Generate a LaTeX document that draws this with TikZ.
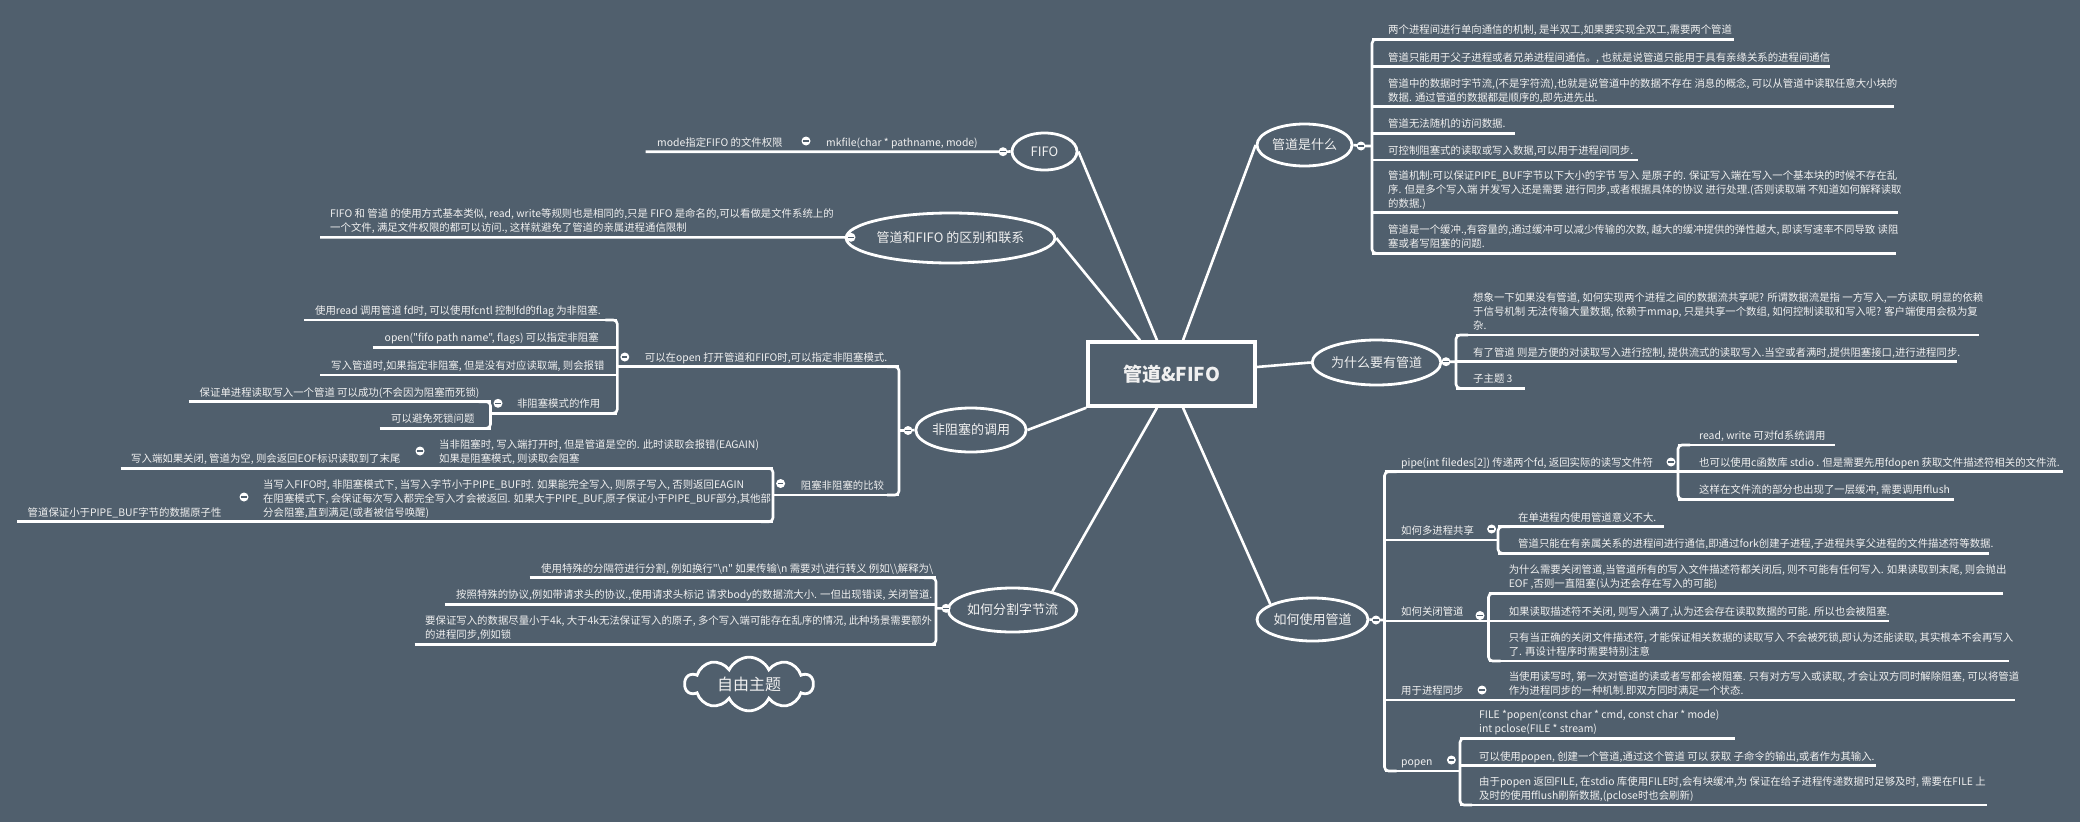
\documentclass[tikz,border=0pt]{standalone}
\usepackage{fontspec}
\setmainfont{Noto Sans CJK SC}[Ligatures=TeXOff]
\usetikzlibrary{shapes.geometric,shapes.symbols}
\definecolor{bgc}{HTML}{505F6D}
\definecolor{tc}{HTML}{F0F0F0}
\tikzset{
  ln/.style={draw=white, line width=2.6pt},
  brk/.style={draw=white, line width=2.6pt, rounded corners=4pt},
  txt/.style={text=tc, inner sep=0pt, font=\fontsize{10.4}{12}\selectfont},
  topic/.style={ellipse, draw=white, line width=2.8pt, text=tc, inner sep=0pt, font=\fontsize{13}{15}\selectfont},
  root/.style={rectangle, draw=white, line width=3.5pt, text=tc, minimum width=167pt, minimum height=64pt, font=\fontsize{19}{21}\selectfont},
  cloudn/.style={cloud, cloud puffs=10, cloud puff arc=130, aspect=2.4, draw=white, line width=2.8pt, text=tc, inner sep=0pt, minimum width=128pt, minimum height=46pt, font=\fontsize{16}{18}\selectfont},
  mk/.style={circle, fill=white, inner sep=0pt, minimum size=9pt,
    path picture={\draw[bgc, line width=1.3pt] ([xshift=-2.6pt]path picture bounding box.center) -- ([xshift=2.6pt]path picture bounding box.center);}},
}
\newcommand\mmt[4]{\node[txt,anchor=base west] (#1) at (#2,#3) {#4};}
\newcommand\mmu[4]{\coordinate (#1a) at (#2,#4);\coordinate (#1b) at (#3,#4);\draw[ln] (#1a) -- (#1b);}
\newcommand\mmr[4]{\coordinate (#1t) at (#2,#3);\coordinate (#1d) at (#2,#4);\draw[brk] ([xshift=12pt]#1t) -- (#1t) -- (#1d) -- ([xshift=12pt]#1d);}
\newcommand\mml[4]{\coordinate (#1t) at (#2,#3);\coordinate (#1d) at (#2,#4);\draw[brk] ([xshift=-12pt]#1t) -- (#1t) -- (#1d) -- ([xshift=-12pt]#1d);}
\begin{document}
\begin{tikzpicture}[x=1pt,y=-1pt]
\useasboundingbox (0,0) rectangle (2080,822);
\fill[bgc] (0,0) rectangle (2080,822);

% ---------- topics ----------
\node[root] (ctr) at (1171.5,374) {\bfseries 管道\&FIFO};
\node[topic, minimum width=95pt, minimum height=42pt] (wsm) at (1304.5,145) {管道是什么};
\node[topic, minimum width=121pt, minimum height=45pt] (why) at (1376.5,362.5) {为什么要有管道};
\node[topic, minimum width=111pt, minimum height=43pt] (use) at (1312.5,619.5) {如何使用管道};
\node[topic, minimum width=65pt, minimum height=37pt] (fifo) at (1044.5,151.5) {FIFO};
\node[topic, minimum width=185pt, minimum height=50pt] (diff) at (950.5,238) {管道和FIFO 的区别和联系};
\node[topic, minimum width=110pt, minimum height=44pt] (nb) at (971,430) {非阻塞的调用};
\node[topic, minimum width=111pt, minimum height=44pt] (split) at (1012.5,610) {如何分割字节流};
\node[cloudn] (free) at (749,684) {自由主题};

% ---------- main connectors ----------
\draw[ln] ([xshift=11.5pt]ctr.north) -- (wsm.west);
\draw[ln] ([yshift=7pt]ctr.east) -- (why.west);
\draw[ln] ([xshift=11.5pt]ctr.south) -- (use.160);
\draw[ln] ([xshift=-14.5pt]ctr.north) -- (fifo.east);
\draw[ln] ([xshift=-31.5pt]ctr.north) -- (diff.east);
\draw[ln] (ctr.south west) -- (nb.east);
\draw[ln] ([xshift=-14.5pt]ctr.south) -- (split.25);

% ---------- 管道是什么 ----------
\coordinate (wsmc) at (1361,146);
\coordinate (wsj) at (1372,146);
\draw[ln] (wsm.east) -- (wsmc) -- (wsj);
\mmr{wsbr}{1372}{39.3}{253.3}
\mmu{ws1}{1372}{1734}{39.3}
\mmt{ws1t}{1388}{33.8}{两个进程间进行单向通信的机制, 是半双工,如果要实现全双工,需要两个管道}
\mmu{ws2}{1372}{1830}{66.7}
\mmt{ws2t}{1388}{61.2}{管道只能用于父子进程或者兄弟进程间通信。, 也就是说管道只能用于具有亲缘关系的进程间通信}
\mmu{ws3}{1372}{1894}{106.7}
\mmt{ws3t}{1388}{87.2}{管道中的数据时字节流,(不是字符流),也就是说管道中的数据不存在 消息的概念, 可以从管道中读取任意大小块的}
\mmt{ws3u}{1388}{101.2}{数据. 通过管道的数据都是顺序的,即先进先出.}
\mmu{ws4}{1372}{1514.5}{133.3}
\mmt{ws4t}{1388}{127.8}{管道无法随机的访问数据.}
\mmu{ws5}{1372}{1637.7}{160}
\mmt{ws5t}{1388}{154.5}{可控制阻塞式的读取或写入数据,可以用于进程间同步.}
\mmu{ws6}{1372}{1898}{212.7}
\mmt{ws6t}{1388}{179.2}{管道机制:可以保证PIPE\_BUF字节以下大小的字节 写入 是原子的. 保证写入端在写入一个基本块的时候不存在乱}
\mmt{ws6u}{1388}{193.2}{序. 但是多个写入端 并发写入还是需要 进行同步,或者根据具体的协议 进行处理.(否则读取端 不知道如何解释读取}
\mmt{ws6v}{1388}{207.2}{的数据.)}
\mmu{ws7}{1372}{1895.7}{253.3}
\mmt{ws7t}{1388}{233.8}{管道是一个缓冲.,有容量的,通过缓冲可以减少传输的次数, 越大的缓冲提供的弹性越大, 即读写速率不同导致 读阻}
\mmt{ws7u}{1388}{247.8}{塞或者写阻塞的问题.}
\node[mk] (wsmk) at (wsmc) {};

% ---------- 为什么要有管道 ----------
\coordinate (whyc) at (1446,361.7);
\coordinate (whyj) at (1456,361.7);
\draw[ln] (why.east) -- (whyc) -- (whyj);
\mmr{whybr}{1456}{335}{388.3}
\mmu{wy1}{1456}{1979}{335}
\mmt{wy1t}{1473}{301.5}{想象一下如果没有管道, 如何实现两个进程之间的数据流共享呢? 所谓数据流是指 一方写入,一方读取.明显的依赖}
\mmt{wy1u}{1473}{315.5}{于信号机制 无法传输大量数据, 依赖于mmap, 只是共享一个数组, 如何控制读取和写入呢? 客户端使用会极为复}
\mmt{wy1v}{1473}{329.5}{杂.}
\mmu{wy2}{1456}{1957}{361.7}
\mmt{wy2t}{1473}{356.2}{有了管道 则是方便的对读取写入进行控制, 提供流式的读取写入.当空或者满时,提供阻塞接口,进行进程同步.}
\mmu{wy3}{1456}{1525}{388.3}
\mmt{wy3t}{1473}{382.8}{子主题 3}
\node[mk] (whymk) at (whyc) {};

% ---------- 如何使用管道 ----------
\coordinate (usec) at (1376,620);
\coordinate (usej) at (1384.5,620);
\draw[ln] (use.east) -- (usec) -- (usej);
\mmr{usebr}{1384.5}{471.7}{771}
% pipe
\mmu{pp}{1384.5}{1678}{471.7}
\mmt{ppt}{1401}{466.5}{pipe(int filedes[2]) 传递两个fd, 返回实际的读写文件符}
\mmr{ppbr}{1678}{445}{499.3}
\mmu{pp1}{1678}{1835}{445}
\mmt{pp1t}{1699}{439.5}{read, write 可对fd系统调用}
\mmu{pp2}{1678}{2063}{471.7}
\mmt{pp2t}{1699}{466.2}{也可以使用c函数库 stdio . 但是需要先用fdopen 获取文件描述符相关的文件流.}
\mmu{pp3}{1678}{1953.6}{499.3}
\mmt{pp3t}{1699}{493.8}{这样在文件流的部分也出现了一层缓冲, 需要调用fflush}
\node[mk] (ppmk) at (1671,462) {};
% 多进程共享
\mmu{mp}{1384.5}{1498}{540}
\mmt{mpt}{1401}{534.5}{如何多进程共享}
\mmr{mpbr}{1498}{526.7}{553.3}
\mmu{mp1}{1498}{1664}{526.7}
\mmt{mp1t}{1518}{521.2}{在单进程内使用管道意义不大.}
\mmu{mp2}{1498}{1989}{553.3}
\mmt{mp2t}{1518}{547.8}{管道只能在有亲属关系的进程间进行通信,即通过fork创建子进程,子进程共享父进程的文件描述符等数据.}
\node[mk] (mpmk) at (1491.6,529) {};
% 关闭管道
\mmu{cl}{1384.5}{1488.5}{621}
\mmt{clt}{1401}{615.5}{如何关闭管道}
\mmr{clbr}{1488.5}{593.3}{661}
\mmu{cl1}{1488.5}{2003}{593.3}
\mmt{cl1t}{1508.6}{573.8}{为什么需要关闭管道,当管道所有的写入文件描述符都关闭后, 则不可能有任何写入. 如果读取到末尾, 则会抛出}
\mmt{cl1u}{1508.6}{587.8}{EOF ,否则一直阻塞(认为还会存在写入的可能)}
\mmu{cl2}{1488.5}{1889}{621}
\mmt{cl2t}{1508.6}{615.5}{如果读取描述符不关闭, 则写入满了,认为还会存在读取数据的可能. 所以也会被阻塞.}
\mmu{cl3}{1488.5}{2009}{661}
\mmt{cl3t}{1508.6}{641.5}{只有当正确的关闭文件描述符, 才能保证相关数据的读取写入 不会被死锁,即认为还能读取, 其实根本不会再写入}
\mmt{cl3u}{1508.6}{655.5}{了. 再设计程序时需要特别注意}
\node[mk] (clmk) at (1480,615.5) {};
% 进程同步
\mmu{sy}{1384.5}{2015}{700}
\mmt{syt}{1401}{694.5}{用于进程同步}
\mmt{sy1t}{1508.6}{680.5}{当使用读写时, 第一次对管道的读或者写都会被阻塞. 只有对方写入或读取, 才会让双方同时解除阻塞, 可以将管道}
\mmt{sy1u}{1508.6}{694.5}{作为进程同步的一种机制.即双方同时满足一个状态.}
\node[mk] (symk) at (1482,690) {};
% popen
\mmu{po}{1384.5}{1460}{771}
\mmt{pot}{1401}{765.5}{popen}
\mmr{pobr}{1460}{738.3}{805}
\mmu{po1}{1460}{1735}{738.3}
\mmt{po1t}{1479}{718.8}{FILE *popen(const char * cmd, const char * mode)}
\mmt{po1u}{1479}{732.8}{int pclose(FILE * stream)}
\mmu{po2}{1460}{1876}{765.7}
\mmt{po2t}{1479}{760.2}{可以使用popen, 创建一个管道,通过这个管道 可以 获取 子命令的输出,或者作为其输入.}
\mmu{po3}{1460}{1987}{805}
\mmt{po3t}{1479}{785.5}{由于popen 返回FILE, 在stdio 库使用FILE时,会有块缓冲,为 保证在给子进程传递数据时足够及时, 需要在FILE 上}
\mmt{po3u}{1479}{799.5}{及时的使用fflush刷新数据,(pclose时也会刷新)}
\node[mk] (pomk) at (1451.4,760) {};
\node[mk] (usemk) at (usec) {};

% ---------- FIFO ----------
\coordinate (fifoc) at (1003,151.7);
\coordinate (fifoe) at (645.7,151.7);
\draw[ln] (fifo.west) -- (fifoc) -- (fifoe);
\mmt{ff1t}{826}{146.2}{mkfile(char * pathname, mode)}
\mmt{ff2t}{657}{146.2}{mode指定FIFO 的文件权限}
\node[mk] (ffmk) at (806,141) {};
\node[mk] (fifomk) at (fifoc) {};

% ---------- 区别和联系 ----------
\coordinate (diffc) at (851,237.3);
\coordinate (diffe) at (320,237.3);
\draw[ln] (diff.west) -- (diffc) -- (diffe);
\mmt{df1t}{330}{217.8}{FIFO 和 管道 的使用方式基本类似, read, write等规则也是相同的,只是 FIFO 是命名的,可以看做是文件系统上的}
\mmt{df1u}{330}{231.8}{一个文件, 满足文件权限的都可以访问., 这样就避免了管道的亲属进程通信限制}
\node[mk] (diffmk) at (diffc) {};

% ---------- 非阻塞的调用 ----------
\coordinate (nbc) at (908,430.5);
\coordinate (nbj) at (899,430.5);
\draw[ln] (nb.west) -- (nbc) -- (nbj);
\mml{nbbr}{899}{366.7}{495}
% open
\mmu{op}{617.3}{899}{366.7}
\mmt{opt}{644.7}{361.2}{可以在open 打开管道和FIFO时,可以指定非阻塞模式.}
\mml{opbr}{617.3}{320}{413.3}
\mmu{op1}{304}{617.3}{320}
\mmt{op1t}{314.9}{314.5}{使用read 调用管道 fd时, 可以使用fcntl 控制fd的flag 为非阻塞.}
\mmu{op2}{372.6}{617.3}{347.3}
\mmt{op2t}{384.5}{341.8}{open("fifo path name", flags) 可以指定非阻塞}
\mmu{op3}{320}{617.3}{375}
\mmt{op3t}{331}{369.5}{写入管道时,如果指定非阻塞, 但是没有对应读取端, 则会报错}
\mmu{op4}{490.5}{617.3}{413.3}
\mmt{op4t}{516.8}{407.8}{非阻塞模式的作用}
\mml{op4br}{490.5}{401.7}{428.3}
\mmu{op41}{188.5}{490.5}{401.7}
\mmt{op41t}{199.5}{396.2}{保证单进程读取写入一个管道 可以成功(不会因为阻塞而死锁)}
\mmu{op42}{379.5}{490.5}{428.3}
\mmt{op42t}{391}{422.8}{可以避免死锁问题}
\node[mk] (opmk) at (624.8,357) {};
\node[mk] (op4mk) at (498,403.3) {};
% 阻塞非阻塞的比较
\mmu{cp}{773}{899}{495}
\mmt{cpt}{800.7}{489.5}{阻塞非阻塞的比较}
\mml{cpbr}{773}{468.3}{521.7}
\mmu{cp1}{120.5}{773}{468.3}
\mmt{cp1t}{439}{448.8}{当非阻塞时, 写入端打开时, 但是管道是空的. 此时读取会报错(EAGAIN)}
\mmt{cp1u}{439}{462.8}{如果是阻塞模式, 则读取会阻塞}
\mmt{cp1g}{131}{462.8}{写入端如果关闭, 管道为空, 则会返回EOF标识读取到了末尾}
\mmu{cp2}{17}{773}{521.7}
\mmt{cp2t}{263}{488.2}{当写入FIFO时, 非阻塞模式下, 当写入字节小于PIPE\_BUF时. 如果能完全写入, 则原子写入, 否则返回EAGIN}
\mmt{cp2u}{263}{502.2}{在阻塞模式下, 会保证每次写入都完全写入才会被返回. 如果大于PIPE\_BUF,原子保证小于PIPE\_BUF部分,其他部}
\mmt{cp2v}{263}{516.2}{分会阻塞,直到满足(或者被信号唤醒)}
\mmt{cp2g}{27.5}{516.2}{管道保证小于PIPE\_BUF字节的数据原子性}
\node[mk] (cpmk) at (780.6,483.5) {};
\node[mk] (cp1mk) at (420,451) {};
\node[mk] (cp2mk) at (244,497) {};
\node[mk] (nbmk) at (nbc) {};

% ---------- 如何分割字节流 ----------
\coordinate (spc) at (946,608.3);
\coordinate (spj) at (936,608.3);
\draw[ln] (split.west) -- (spc) -- (spj);
\mml{spbr}{936}{577.7}{644.3}
\mmu{sp1}{529.7}{936}{577.7}
\mmt{sp1t}{541}{572.2}{使用特殊的分隔符进行分割, 例如换行"\textbackslash n" 如果传输\textbackslash n 需要对\textbackslash 进行转义 例如\textbackslash\textbackslash 解释为\textbackslash}
\mmu{sp2}{444.8}{936}{604.3}
\mmt{sp2t}{456}{598.8}{按照特殊的协议,例如带请求头的协议.,使用请求头标记 请求body的数据流大小. 一但出现错误, 关闭管道.}
\mmu{sp3}{414.5}{936}{644.3}
\mmt{sp3t}{425}{624.8}{要保证写入的数据尽量小于4k, 大于4k无法保证写入的原子, 多个写入端可能存在乱序的情况, 此种场景需要额外}
\mmt{sp3u}{425}{638.8}{的进程同步,例如锁}
\node[mk] (spmk) at (spc) {};
\end{tikzpicture}
\end{document}
